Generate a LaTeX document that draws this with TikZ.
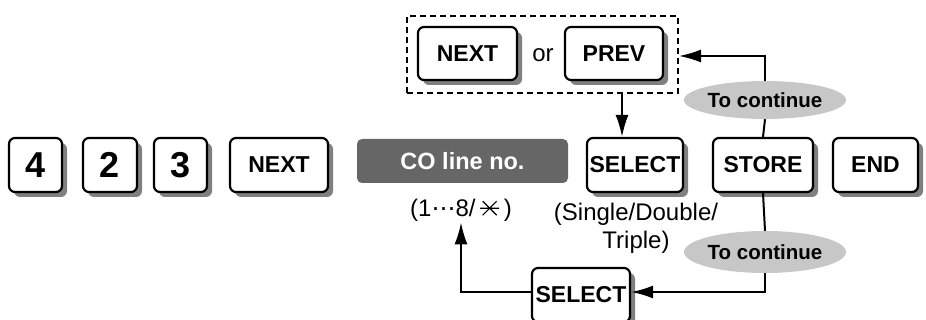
\documentclass[tikz,border=0pt]{standalone}
\usepackage{fontspec}
\setmainfont{Liberation Sans}
\newfontfamily\symfont{DejaVu Sans}
\usetikzlibrary{arrows.meta, shadows, shapes.geometric}

\tikzset{
  key/.style={draw, line width=2.2pt, rounded corners=6pt, fill=white,
    minimum height=54pt, inner sep=0pt, font=\fontsize{23}{26}\selectfont\bfseries,
    drop shadow={shadow xshift=5pt, shadow yshift=-5pt, fill=black!50, opacity=1}},
  digit/.style={key, minimum width=53pt, font=\fontsize{36}{38}\selectfont\bfseries},
  cont/.style={ellipse, fill=black!22, inner sep=0pt,
    font=\fontsize{20.5}{22}\selectfont\bfseries},
  conn/.style={line width=2pt, -{Latex[length=22pt, width=13pt]}},
  plain/.style={font=\fontsize{24}{28}\selectfont}
}
% asterisco a sei punte
\newcommand{\sixast}{\tikz[x=1pt, y=1pt, baseline=0pt, line width=1.2pt]{%
  \draw (0,8) -- (19,8) (2.5,1) -- (16.5,15) (2.5,15) -- (16.5,1);}}

\begin{document}
\begin{tikzpicture}[x=1pt, y=-1pt]
    \useasboundingbox (0,0) rectangle (926,320);

    % tasti in riga
    \node[digit] (k4) at (35.5,165) {4};
    \node[digit, minimum width=54pt] (k2) at (110,165) {2};
    \node[digit] (k3) at (180.5,165) {3};
    \node[key, minimum width=98pt] (next) at (279,165) {NEXT};

    % numero di linea
    \node[fill=black!60, rounded corners=5pt, minimum width=211pt, minimum height=44pt,
      text=white, font=\fontsize{23.5}{26}\selectfont\bfseries] (coline) at (462.5,161) {CO line no.};
    \node[plain, inner sep=1pt] (range) at (461,210) {(1{\symfont ⋯}8/\,\sixast\,)};

    \node[key, minimum width=96pt] (sel) at (635,165) {SELECT};
    \node[key, minimum width=100pt] (store) at (763,165) {STORE};
    \node[key, minimum width=85pt] (endk) at (875.5,165) {END};

    \node[plain, align=center, inner sep=0pt] (mode) at (636,228) {(Single/Double/\\Triple)};

    % riquadro tratteggiato
    \node[draw, line width=2pt, dash pattern=on 6pt off 4pt, minimum width=271pt,
      minimum height=77pt] (box) at (542.5,54.5) {};
    \node[key, minimum width=99pt, minimum height=53pt] (tnext) at (467.5,53.5) {NEXT};
    \node[plain] (or) at (543,55) {or};
    \node[key, minimum width=98pt, minimum height=53pt] (tprev) at (614,53.5) {PREV};

    % per continuare
    \node[cont, minimum width=144pt, minimum height=38pt] (cont1) at (765,100) {To continue};
    \node[cont, minimum width=142pt, minimum height=42pt] (cont2) at (765,252) {To continue};

    \node[key, minimum width=98pt] (lsel) at (581,295) {SELECT};

    % frecce
    \draw[conn] ([xshift=-13pt]sel.north |- box.south) -- ([xshift=-13pt]sel.north);
    \draw[line width=2pt] (store.north) -- (cont1.south);
    \draw[conn] (cont1.north) |- ([yshift=-1.5pt]box.east);
    \draw[line width=2pt] (store.south) -- (cont2.north);
    \draw[conn] (cont2.south) |- ([yshift=3pt]lsel.east);
    \draw[conn] ([yshift=3pt]lsel.west) -| (range.south);
\end{tikzpicture}
\end{document}
